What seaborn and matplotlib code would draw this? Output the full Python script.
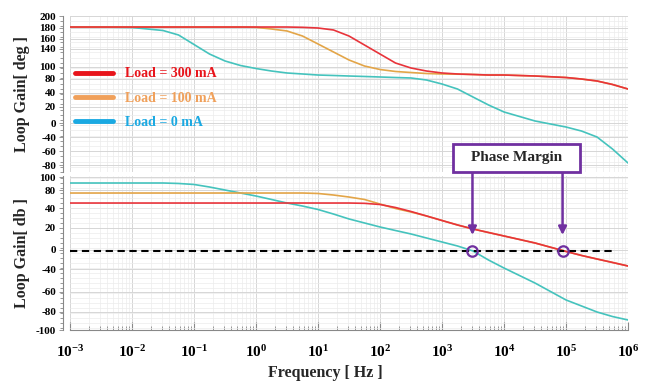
import numpy as np
import pandas as pd
import matplotlib
matplotlib.use('Agg')
import matplotlib.pyplot as plt
import matplotlib.ticker as mticker
from matplotlib.lines import Line2D
from matplotlib.patches import Rectangle
import seaborn as sns

# log10 of frequency where the curves were read
log_f = [-3, -2.5, -2, -1.5, -1.25, -1, -0.75, -0.5, -0.25, 0, 0.25, 0.5, 0.75, 1,
         1.25, 1.5, 1.75, 2, 2.25, 2.5, 2.75, 3, 3.25, 3.5, 3.75, 4, 4.5, 5,
         5.25, 5.5, 5.75, 6]
freq = 10.0 ** np.array(log_f)

loads = ['Load = 0 mA', 'Load = 100 mA', 'Load = 300 mA']

# phase panel (axis units as drawn in the picture)
phase_0 = [178.8, 178.8, 177.9, 172.1, 163.5, 145.2, 126.9, 113.5, 104.8, 99.0,
           94.2, 90.4, 88.5, 86.5, 85.6, 84.6, 83.7, 82.7, 81.7, 80.8, 76.9, 69.2,
           59.6, 44.2, 28.9, 15.4, -1.9, -13.5, -21.2, -32.7, -55.8, -82.7]
phase_100 = [178.8, 178.8, 178.8, 178.8, 178.8, 178.8, 178.8, 178.8, 178.8, 178.2,
             175.0, 171.2, 161.5, 146.2, 130.8, 115.4, 103.8, 97.1, 93.3, 91.3,
             89.4, 88.5, 88.1, 87.5, 86.5, 86.5, 84.6, 81.7, 78.8, 75.0, 68.3, 59.6]
phase_300 = [178.8, 178.8, 178.8, 178.8, 178.8, 178.8, 178.8, 178.8, 178.8, 178.8,
             178.8, 178.8, 178.2, 176.9, 173.1, 161.5, 144.2, 126.9, 109.6, 100.0,
             94.2, 90.4, 88.5, 87.5, 86.5, 86.5, 84.6, 81.7, 78.8, 75.0, 68.3, 59.6]

# gain panel
gain_0 = [90.9, 90.9, 90.9, 90.9, 90.3, 89.0, 85.7, 81.8, 77.9, 74.0, 69.5, 64.9,
          61.0, 56.5, 50.6, 44.2, 39.0, 33.8, 29.2, 24.7, 19.5, 14.3, 9.1, 2.6,
          -9.1, -19.5, -39.0, -61.0, -68.8, -76.6, -82.5, -87.0]
gain_100 = [77.9, 77.9, 77.9, 77.9, 77.9, 77.9, 77.9, 77.9, 77.9, 77.9, 77.9, 77.9,
            77.9, 77.3, 75.3, 72.7, 69.5, 63.6, 57.8, 53.2, 48.1, 42.2, 36.4, 31.2,
            26.6, 22.1, 13.0, 2.0, -3.2, -7.8, -12.3, -16.9]
gain_300 = [64.9, 64.9, 64.9, 64.9, 64.9, 64.9, 64.9, 64.9, 64.9, 64.9, 64.9, 64.9,
            64.9, 64.9, 64.9, 64.9, 64.5, 63.0, 59.1, 53.9, 48.1, 42.2, 36.4, 31.2,
            26.6, 22.1, 13.0, 2.0, -3.2, -7.8, -12.3, -16.9]

phase_tick_pos = [200, 177, 156, 137, 102, 79, 52, 25, -6, -33, -60, -87]
phase_tick_lab = ['200', '180', '160', '140', '100', '80', '40', '20', '0', '-40', '-60', '-80']
gain_tick_pos = [98.7, 81.8, 58.4, 32.5, 3.9, -20.8, -50.6, -76.6, -100]
gain_tick_lab = ['100', '80', '40', '20', '0', '-40', '-60', '-80', '-100']

dash_freq = [1e-3, 6.5e5]
zero_db = 2.6
pm_freq = [3.1e3, 8.8e4]
arrow_top = 105.2
arrow_tip = 23.4
x_decades = [-3, -2, -1, 0, 1, 2, 3, 4, 5, 6]

line_cols = {'Load = 0 mA': '#45c3bd', 'Load = 100 mA': '#e3a548', 'Load = 300 mA': '#e8333a'}
legend_cols = ['#e8141b', '#f0a05a', '#1aa9e2']
purple = '#7030a0'

phase_df = pd.DataFrame({'freq': np.tile(freq, 3),
                         'val': phase_0 + phase_100 + phase_300,
                         'load': np.repeat(loads, len(freq))})
gain_df = pd.DataFrame({'freq': np.tile(freq, 3),
                        'val': gain_0 + gain_100 + gain_300,
                        'load': np.repeat(loads, len(freq))})

sns.set_style('white')
plt.rcParams['font.family'] = ['Liberation Serif', 'DejaVu Serif']
plt.rcParams['font.weight'] = 'bold'
plt.rcParams['mathtext.fontset'] = 'custom'
plt.rcParams['mathtext.bf'] = 'Liberation Serif:bold'
plt.rcParams['mathtext.rm'] = 'Liberation Serif:bold'

fig = plt.figure(figsize=(6.46, 3.84), dpi=100)
W, H = 646, 384
ax1 = fig.add_axes([70 / W, 1 - 172 / H, 558 / W, 156 / H])
ax2 = fig.add_axes([70 / W, 1 - 330 / H, 558 / W, 154 / H])

sns.lineplot(data=phase_df, x='freq', y='val', hue='load', hue_order=loads,
             palette=line_cols, ax=ax1, legend=False, lw=1.2)
sns.lineplot(data=gain_df, x='freq', y='val', hue='load', hue_order=loads,
             palette=line_cols, ax=ax2, legend=False, lw=1.2)

for ax in (ax1, ax2):
    ax.set_xscale('log')
    ax.set_xlim(1e-3, 1e6)
    ax.xaxis.set_major_locator(mticker.LogLocator(base=10, numticks=20))
    ax.xaxis.set_minor_locator(mticker.LogLocator(base=10, subs=np.arange(2, 10), numticks=20))
    ax.grid(True, which='major', color='#d6d6d6', lw=0.7)
    ax.grid(True, which='minor', color='#ececec', lw=0.5)
    for s in ['top', 'right']:
        ax.spines[s].set_visible(False)
    ax.spines['left'].set_position(('outward', 5))
    ax.spines['left'].set_color('#888888')
    ax.spines['left'].set_linewidth(0.8)
    ax.tick_params(axis='y', which='both', left=True, colors='#888888', labelcolor='black',
                   labelsize=8, width=0.6)
    ax.tick_params(axis='y', which='major', length=3, pad=2)
    ax.tick_params(axis='y', which='minor', length=2)
    ax.set_xlabel('')
    ax.set_ylabel('')

ax1.set_ylim(-100, 200)
ax1.set_yticks(phase_tick_pos)
ax1.set_yticklabels(phase_tick_lab)
ax1.yaxis.set_minor_locator(mticker.MultipleLocator(10))
ax1.spines['bottom'].set_visible(False)
ax1.tick_params(axis='x', which='both', bottom=False, labelbottom=False)

ax2.set_ylim(-100, 100)
ax2.set_yticks(gain_tick_pos)
ax2.set_yticklabels(gain_tick_lab)
ax2.yaxis.set_minor_locator(mticker.MultipleLocator(6.5))
ax2.spines['bottom'].set_color('#888888')
ax2.spines['bottom'].set_linewidth(0.8)
ax2.set_xticks(10.0 ** np.array(x_decades))
ax2.set_xticklabels([r'$\mathbf{10^{%d}}$' % d for d in x_decades])
ax2.tick_params(axis='x', which='both', bottom=True, direction='in', colors='#888888',
                labelcolor='black', labelsize=11, pad=10)
ax2.tick_params(axis='x', which='major', length=6)
ax2.tick_params(axis='x', which='minor', length=3)

ax1.set_ylabel('Loop Gain[ deg ]', fontsize=11.5, fontweight='bold')
ax2.set_ylabel('Loop Gain[ db ]', fontsize=11.5, fontweight='bold')
ax1.yaxis.set_label_coords(-0.072, 0.5)
ax2.yaxis.set_label_coords(-0.072, 0.5)
ax2.set_xlabel('Frequency [ Hz ]', fontsize=11.5, fontweight='bold')
ax2.xaxis.set_label_coords(0.457, -0.23)

# legend
handles = [Line2D([], [], color=c, lw=3.5) for c in legend_cols]
leg_labels = ['Load = 300 mA', 'Load = 100 mA', 'Load = 0 mA']
ax1.legend(handles, leg_labels, loc='center left', bbox_to_anchor=(0.009, 0.474),
           frameon=False, handlelength=2.75, handletextpad=0.85, labelspacing=0.8,
           borderpad=0, borderaxespad=0, labelcolor=legend_cols,
           prop={'family': 'Liberation Serif', 'weight': 'bold', 'size': 10})

# 0 dB reference and phase margin marks
ax2.plot(dash_freq, [zero_db, zero_db], color='black', lw=1.5, dashes=(3.5, 2.2))
ax2.plot(pm_freq, [zero_db, zero_db], ls='none', marker='o', ms=7.5, mfc='none',
         mec=purple, mew=1.6)
for f in pm_freq:
    ax2.annotate('', xy=(f, arrow_tip), xytext=(f, arrow_top), annotation_clip=False,
                 arrowprops=dict(arrowstyle='-|>', color=purple, lw=1.8,
                                 mutation_scale=12, shrinkA=0, shrinkB=0))

fig.patches.append(Rectangle((453 / W, 1 - 172 / H), 127 / W, 28 / H, transform=fig.transFigure,
                             fill=True, facecolor='white', edgecolor=purple, lw=2, zorder=5))
fig.text(516.5 / W, 1 - 158 / H, 'Phase Margin', ha='center', va='center',
         fontsize=11, fontweight='bold', zorder=6)

fig.savefig('out.png', dpi=100)
